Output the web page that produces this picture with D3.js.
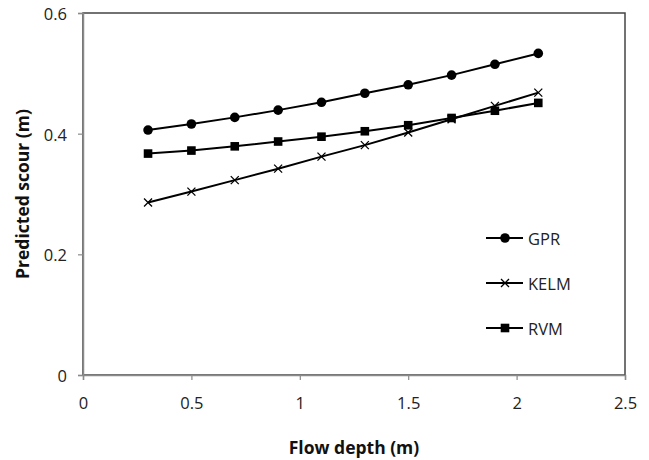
<!DOCTYPE html>
<html>
<head>
<meta charset="utf-8">
<script src="https://cdn.jsdelivr.net/npm/d3@7"></script>
<style>
  body { margin: 0; background: #fff; }
  text { font-family: "Open Sans", "DejaVu Sans", sans-serif; }
</style>
</head>
<body>
<div id="chart"></div>
<script>
const depths = [0.3, 0.5, 0.7, 0.9, 1.1, 1.3, 1.5, 1.7, 1.9, 2.1];
const gpr = [0.406, 0.416, 0.427, 0.439, 0.452, 0.467, 0.481, 0.497, 0.515, 0.533];
const kelm = [0.286, 0.304, 0.323, 0.342, 0.362, 0.381, 0.402, 0.424, 0.446, 0.468];
const rvm = [0.367, 0.372, 0.379, 0.387, 0.395, 0.404, 0.414, 0.426, 0.438, 0.451];
const seriesNames = ["GPR", "KELM", "RVM"];
const xTicks = [0, 0.5, 1, 1.5, 2, 2.5];
const yTicks = [0, 0.2, 0.4, 0.6];

const width = 649, height = 460;
const margin = { top: 13, right: 24, bottom: 85, left: 83 };

const svg = d3.select("#chart").append("svg")
  .attr("width", width)
  .attr("height", height);

const x = d3.scaleLinear().domain([0, 2.5]).range([margin.left, width - margin.right]);
const y = d3.scaleLinear().domain([0, 0.6]).range([height - margin.bottom, margin.top]);

// plot border (top and right darker)
svg.append("rect")
  .attr("x", x(0)).attr("y", y(0.6))
  .attr("width", x(2.5) - x(0)).attr("height", y(0) - y(0.6))
  .attr("fill", "none").attr("stroke", "#444").attr("stroke-width", 1.5);

const xAxis = svg.append("g")
  .attr("transform", `translate(0,${y(0)})`)
  .call(d3.axisBottom(x).tickValues(xTicks).tickSize(5).tickFormat(d3.format("")));
const yAxis = svg.append("g")
  .attr("transform", `translate(${x(0)},0)`)
  .call(d3.axisLeft(y).tickValues(yTicks).tickSize(5).tickFormat(d3.format("")));

[xAxis, yAxis].forEach(g => {
  g.select(".domain").attr("stroke", "#8a8a8a").attr("stroke-width", 1.5);
  g.selectAll(".tick line").attr("stroke", "#8a8a8a").attr("stroke-width", 1.2);
  g.selectAll(".tick text").attr("fill", "#222").style("font-size", "16.5px")
    .style("font-family", "'Open Sans', sans-serif");
});
xAxis.selectAll(".tick text").attr("y", 27).attr("dy", null).attr("dominant-baseline", "central");
yAxis.selectAll(".tick text").attr("x", -16).attr("dy", null).attr("dominant-baseline", "central");

const allSeries = [gpr, kelm, rvm];
const line = d3.line().x((d, i) => x(depths[i])).y(d => y(d));

function drawMarker(g, type, cx, cy) {
  if (type === 0) {
    g.append("circle").attr("cx", cx).attr("cy", cy).attr("r", 4.8).attr("fill", "#000");
  } else if (type === 1) {
    const s = 4;
    g.append("path")
      .attr("d", `M${cx - s},${cy - s}L${cx + s},${cy + s}M${cx - s},${cy + s}L${cx + s},${cy - s}`)
      .attr("stroke", "#000").attr("stroke-width", 1.3).attr("fill", "none");
  } else {
    g.append("rect").attr("x", cx - 4.3).attr("y", cy - 4.3)
      .attr("width", 8.6).attr("height", 8.6).attr("fill", "#000");
  }
}

allSeries.forEach((vals, si) => {
  svg.append("path")
    .datum(vals)
    .attr("d", line)
    .attr("fill", "none")
    .attr("stroke", "#000")
    .attr("stroke-width", 2);
  const g = svg.append("g");
  vals.forEach((v, i) => drawMarker(g, si, x(depths[i]), y(v)));
});

// legend
const legendY = [238, 283, 328];
seriesNames.forEach((name, i) => {
  const g = svg.append("g");
  g.append("line").attr("x1", 486).attr("x2", 523)
    .attr("y1", legendY[i]).attr("y2", legendY[i])
    .attr("stroke", "#000").attr("stroke-width", 2);
  drawMarker(g, i, 505, legendY[i]);
  g.append("text").attr("x", 528).attr("y", legendY[i])
    .attr("dominant-baseline", "central")
    .style("font-size", "16.5px").attr("fill", "#222")
    .text(name);
});

// axis titles
svg.append("text")
  .attr("x", (x(0) + x(2.5)) / 2).attr("y", 447)
  .attr("text-anchor", "middle").attr("dominant-baseline", "central")
  .style("font-size", "17.5px").style("font-weight", "bold").attr("fill", "#111")
  .text("Flow depth (m)");

svg.append("text")
  .attr("transform", `translate(22,${(y(0) + y(0.6)) / 2}) rotate(-90)`)
  .attr("text-anchor", "middle").attr("dominant-baseline", "central")
  .style("font-size", "17.5px").style("font-weight", "bold").attr("fill", "#111")
  .text("Predicted scour (m)");
</script>
</body>
</html>
